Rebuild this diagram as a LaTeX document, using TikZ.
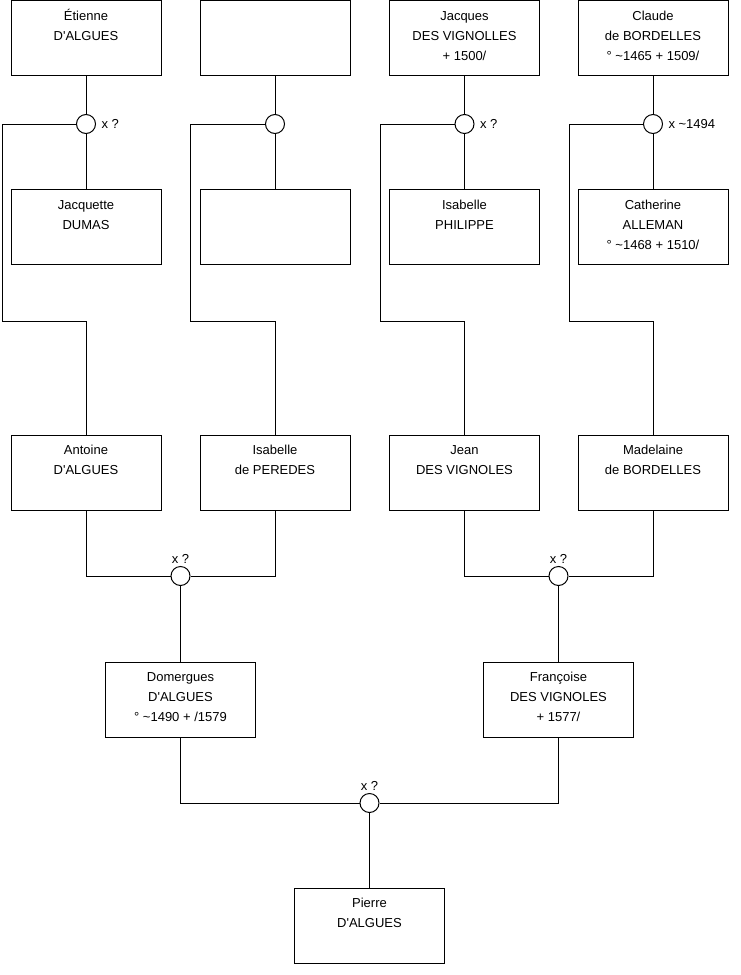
\documentclass[tikz,border=0pt]{standalone}
\usepackage{fontspec}
\setmainfont{Liberation Sans}
\usepackage{tikz}

\newcommand{\perso}[3]{\strut#1\\#2\\#3\rule[-10pt]{0pt}{14pt}}
\newcommand{\ap}{\textquotesingle}
\newcommand{\env}{\textasciitilde}

\begin{document}
\begin{tikzpicture}[x=1pt,y=-1pt,line width=1pt,
  person/.style={draw, rectangle, minimum width=150pt, minimum height=75pt,
    inner sep=0pt, align=center, font=\fontsize{13}{20}\selectfont},
  union/.style={draw, circle, fill=white, minimum size=19pt, inner sep=0pt},
  lbl/.style={font=\fontsize{13}{16}\selectfont, inner sep=2pt}]

  % ====== 1) cadre ======
  \fill[white] (0,0) rectangle (740,975);
  \useasboundingbox (0,0) rectangle (740,975);

  % ====== 2) rang 1 et 2 : grands-parents des parents ======
  \node[person] (etienne)   at (86,38)  {\perso{Étienne}{D\ap ALGUES}{}};
  \node[person] (inconnu)   at (275,38) {\perso{}{}{}};
  \node[person] (jacques)   at (464.5,38) {\perso{Jacques}{DES VIGNOLLES}{+ 1500/}};
  \node[person] (claude)    at (653,38) {\perso{Claude}{de BORDELLES}{° \env1465 + 1509/}};

  \node[person] (jacquette) at (86,227)  {\perso{Jacquette}{DUMAS}{}};
  \node[person] (inconnue)  at (275,227) {\perso{}{}{}};
  \node[person] (isabelleP) at (464.5,227) {\perso{Isabelle}{PHILIPPE}{}};
  \node[person] (catherine) at (653,227) {\perso{Catherine}{ALLEMAN}{° \env1468 + 1510/}};

  % ====== 3) rang 3 : grands-parents ======
  \node[person] (antoine)   at (86,472.5)  {\perso{Antoine}{D\ap ALGUES}{}};
  \node[person] (isabelleD) at (275,472.5) {\perso{Isabelle}{de PEREDES}{}};
  \node[person] (jean)      at (464.5,472.5) {\perso{Jean}{DES VIGNOLES}{}};
  \node[person] (madelaine) at (653,472.5) {\perso{Madelaine}{de BORDELLES}{}};

  % ====== 4) rang 4 et 5 : parents et enfant ======
  \node[person] (domergues) at (180.5,699.5) {\perso{Domergues}{D\ap ALGUES}{° \env1490 + /1579}};
  \node[person] (francoise) at (558.5,699.5) {\perso{Françoise}{DES VIGNOLES}{+ 1577/}};
  \node[person] (pierre)    at (369.5,925.5) {\perso{Pierre}{D\ap ALGUES}{}};

  % ====== 5) unions ======
  \node[union, label={[lbl, label distance=3pt]right:x ?}]        (u1) at (86,124)    {};
  \node[union]                                                    (u2) at (275,124)   {};
  \node[union, label={[lbl, label distance=3pt]right:x ?}]        (u3) at (464.5,124) {};
  \node[union, label={[lbl, label distance=3pt]right:x \env1494}] (u4) at (653,124)   {};
  \node[union, label={[lbl]above:x ?}]          (u5) at (180.5,576) {};
  \node[union, label={[lbl]above:x ?}]          (u6) at (558.5,576) {};
  \node[union, label={[lbl]above:x ?}]          (u7) at (369.5,803) {};

  % coins des traits de filiation
  \coordinate (k1) at (2,321);
  \coordinate (k2) at (190,321);
  \coordinate (k3) at (380,321);
  \coordinate (k4) at (569,321);

  % ====== 6) traits ======
  \draw (etienne) -- (u1) -- (jacquette);
  \draw (inconnu) -- (u2) -- (inconnue);
  \draw (jacques) -- (u3) -- (isabelleP);
  \draw (claude)  -- (u4) -- (catherine);

  \draw (u1) -| (k1) -| (antoine);
  \draw (u2) -| (k2) -| (isabelleD);
  \draw (u3) -| (k3) -| (jean);
  \draw (u4) -| (k4) -| (madelaine);

  \draw (antoine) |- (u5);
  \draw (isabelleD) |- (u5);
  \draw (u5) -- (domergues);
  \draw (jean) |- (u6);
  \draw (madelaine) |- (u6);
  \draw (u6) -- (francoise);

  \draw (domergues) |- (u7);
  \draw (francoise) |- (u7);
  \draw (u7) -- (pierre);

\end{tikzpicture}
\end{document}
